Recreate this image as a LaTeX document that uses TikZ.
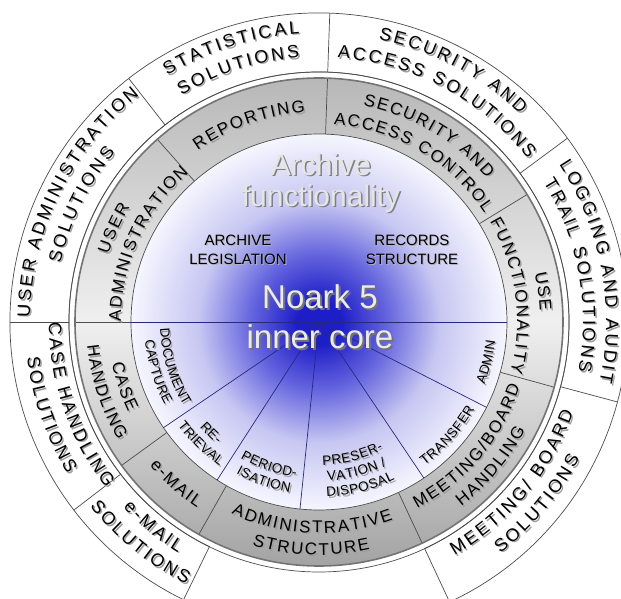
\documentclass[tikz,border=0pt]{standalone}
\usepackage{fontspec}
\setmainfont{Liberation Sans}
\usetikzlibrary{decorations.text}

\definecolor{coreA}{RGB}{30,30,200}
\definecolor{coreB}{RGB}{100,100,222}
\definecolor{coreC}{RGB}{198,198,242}
\definecolor{coreD}{RGB}{246,246,255}
\definecolor{spokeblue}{RGB}{40,40,125}
\pgfdeclareradialshading{coreshade}{\pgfpoint{0bp}{0bp}}{color(0bp)=(coreA); color(3bp)=(coreA); color(9bp)=(coreB); color(16bp)=(coreC); color(25bp)=(coreD); color(50bp)=(coreD)}

% letter spacing is done with a kern in front of each letter
\newcommand\outerstyle{\fontsize{18}{20}\selectfont\kern2.6pt}
\newcommand\middlestyle{\fontsize{17}{19}\selectfont\kern1.8pt}
\newcommand\innerstyle{\fontsize{13.5}{15}\selectfont\kern0.5pt}

% text on an arc, letters facing out (upper half)
\newcommand\arcout[4]{%
  \pgfmathsetmacro\arcfrom{#2+70}\pgfmathsetmacro\arcto{#2-70}%
  \path[xshift=1.5pt,yshift=-1.5pt,decorate,decoration={text along path,text align=center,
      text={|\color{black!38}#3|#4}}] (\arcfrom:#1) arc[start angle=\arcfrom,end angle=\arcto,radius=#1];
  \path[decorate,decoration={text along path,text align=center,text={|#3|#4}}]
    (\arcfrom:#1) arc[start angle=\arcfrom,end angle=\arcto,radius=#1];}
% text on an arc, letters facing in (lower half)
\newcommand\arcin[4]{%
  \pgfmathsetmacro\arcfrom{#2-70}\pgfmathsetmacro\arcto{#2+70}%
  \path[xshift=1.5pt,yshift=-1.5pt,decorate,decoration={text along path,text align=center,
      text={|\color{black!38}#3|#4}}] (\arcfrom:#1) arc[start angle=\arcfrom,end angle=\arcto,radius=#1];
  \path[decorate,decoration={text along path,text align=center,text={|#3|#4}}]
    (\arcfrom:#1) arc[start angle=\arcfrom,end angle=\arcto,radius=#1];}

\tikzset{
  ringline/.style={draw=black!70,line width=0.7pt},
  spoke/.style={draw=spokeblue,line width=0.7pt},
  bigtext/.style={font=\fontsize{30}{31}\selectfont,align=center,inner sep=0pt},
  smalltext/.style={font=\fontsize{15}{19}\selectfont,align=center,inner sep=0pt},
}

\begin{document}
\begin{tikzpicture}[x=1pt,y=1pt]
  \fill[white] (-319,-277) rectangle (302,322);
  \useasboundingbox (-319,-277) rectangle (302,322);
  \coordinate (hub) at (0,0);

  % outer ring: solutions
  \draw[ringline,fill=white] (-65:309) arc[start angle=-65,end angle=244,radius=309]
    -- (244:250) arc[start angle=244,end angle=-65,radius=250] -- cycle;
  \draw[ringline] (hub) circle[radius=250];
  \foreach \a in {128,88,36.5,-15,180,217.5}
    \draw[ringline] (\a:250) -- (\a:309);

  % middle ring
  \shade[top color=black!28,bottom color=black!36,middle color=black!6,even odd rule]
    (hub) circle[radius=244] circle[radius=188];
  \foreach \a in {131.5,88,31.5,-15.5,-65,-119.5,-144,180}
    \draw[ringline] (\a:188) -- (\a:244);
  \draw[black!55,line width=1.6pt] (hub) circle[radius=244];

  % inner core
  \shade[shading=coreshade] (hub) circle[radius=188];
  \draw[black!70,line width=0.7pt] (hub) circle[radius=188];
  \draw[spoke] (180:188) -- (0:188);
  \foreach \a in {214.2,237.2,264.2,303.9,333}
    \draw[spoke] (hub) -- (\a:188);

  % outer labels
  \arcout{289}{154}{\outerstyle}{USER ADMINISTRATION}
  \arcout{265}{154}{\outerstyle}{SOLUTIONS}
  \arcout{289}{108}{\outerstyle}{STATISTICAL}
  \arcout{265}{108}{\outerstyle}{SOLUTIONS}
  \arcout{289}{62.25}{\outerstyle}{SECURITY AND}
  \arcout{265}{62.25}{\outerstyle}{ACCESS SOLUTIONS}
  \arcout{287}{10.75}{\outerstyle}{LOGGING AND AUDIT}
  \arcout{264}{10.75}{\outerstyle}{TRAIL SOLUTIONS}
  \arcin{270}{-40}{\outerstyle}{MEETING/ BOARD}
  \arcin{294}{-40}{\outerstyle}{SOLUTIONS}
  \arcin{270}{230.75}{\outerstyle}{e-MAIL}
  \arcin{294}{230.75}{\outerstyle}{SOLUTIONS}
  \arcin{270}{198.75}{\outerstyle}{CASE HANDLING}
  \arcin{294}{198.75}{\outerstyle}{SOLUTIONS}

  % middle labels
  \arcout{221}{155.75}{\middlestyle}{USER}
  \arcout{198}{155.75}{\middlestyle}{ADMINISTRATION}
  \arcout{210}{109.75}{\middlestyle}{REPORTING}
  \arcout{221}{59.75}{\middlestyle}{SECURITY AND}
  \arcout{198}{59.75}{\middlestyle}{ACCESS CONTROL}
  \arcout{221}{8}{\middlestyle}{USE}
  \arcout{198}{8}{\middlestyle}{FUNCTIONALITY}
  \arcin{211}{-40.25}{\middlestyle}{MEETING/BOARD}
  \arcin{233}{-40.25}{\middlestyle}{HANDLING}
  \arcin{211}{-92.25}{\middlestyle}{ADMINISTRATIVE}
  \arcin{233}{-92.25}{\middlestyle}{STRUCTURE}
  \arcin{222}{-131.75}{\middlestyle}{e-MAIL}
  \arcin{211}{198}{\middlestyle}{CASE}
  \arcin{233}{198}{\middlestyle}{HANDLING}

  % inner labels
  \arcin{159}{197}{\innerstyle}{DOCUMENT}
  \arcin{175}{197}{\innerstyle}{CAPTURE}
  \arcin{159}{225.7}{\innerstyle}{RE-}
  \arcin{175}{225.7}{\innerstyle}{TRIEVAL}
  \arcin{157}{250.7}{\innerstyle}{PERIOD-}
  \arcin{173}{250.7}{\innerstyle}{ISATION}
  \arcin{143}{284}{\innerstyle}{PRESER-}
  \arcin{159}{284}{\innerstyle}{VATION /}
  \arcin{175}{284}{\innerstyle}{DISPOSAL}
  \arcin{178}{318.5}{\innerstyle}{TRANSFER}
  \arcin{177}{346.5}{\innerstyle}{ADMIN}

  % core texts
  \node[bigtext,text=black!50] (archshadow) at (3.5,137.5) {Archive\\functionality};
  \node[bigtext,text=black!10] (archive) at (2,139) {Archive\\functionality};
  \node[smalltext,text=black!30] (legishadow) at (-80,71) {ARCHIVE\\LEGISLATION};
  \node[smalltext] (legislation) at (-81,72) {ARCHIVE\\LEGISLATION};
  \node[smalltext,text=black!30] (recshadow) at (94,71) {RECORDS\\STRUCTURE};
  \node[smalltext] (records) at (93,72) {RECORDS\\STRUCTURE};
  \node[bigtext,font=\fontsize{33}{40}\selectfont,text=black!55] (coreshadow) at (3,3.5) {Noark 5\\inner core};
  \node[bigtext,font=\fontsize{33}{40}\selectfont,text=black!8] (core) at (1,5) {Noark 5\\inner core};
\end{tikzpicture}
\end{document}
